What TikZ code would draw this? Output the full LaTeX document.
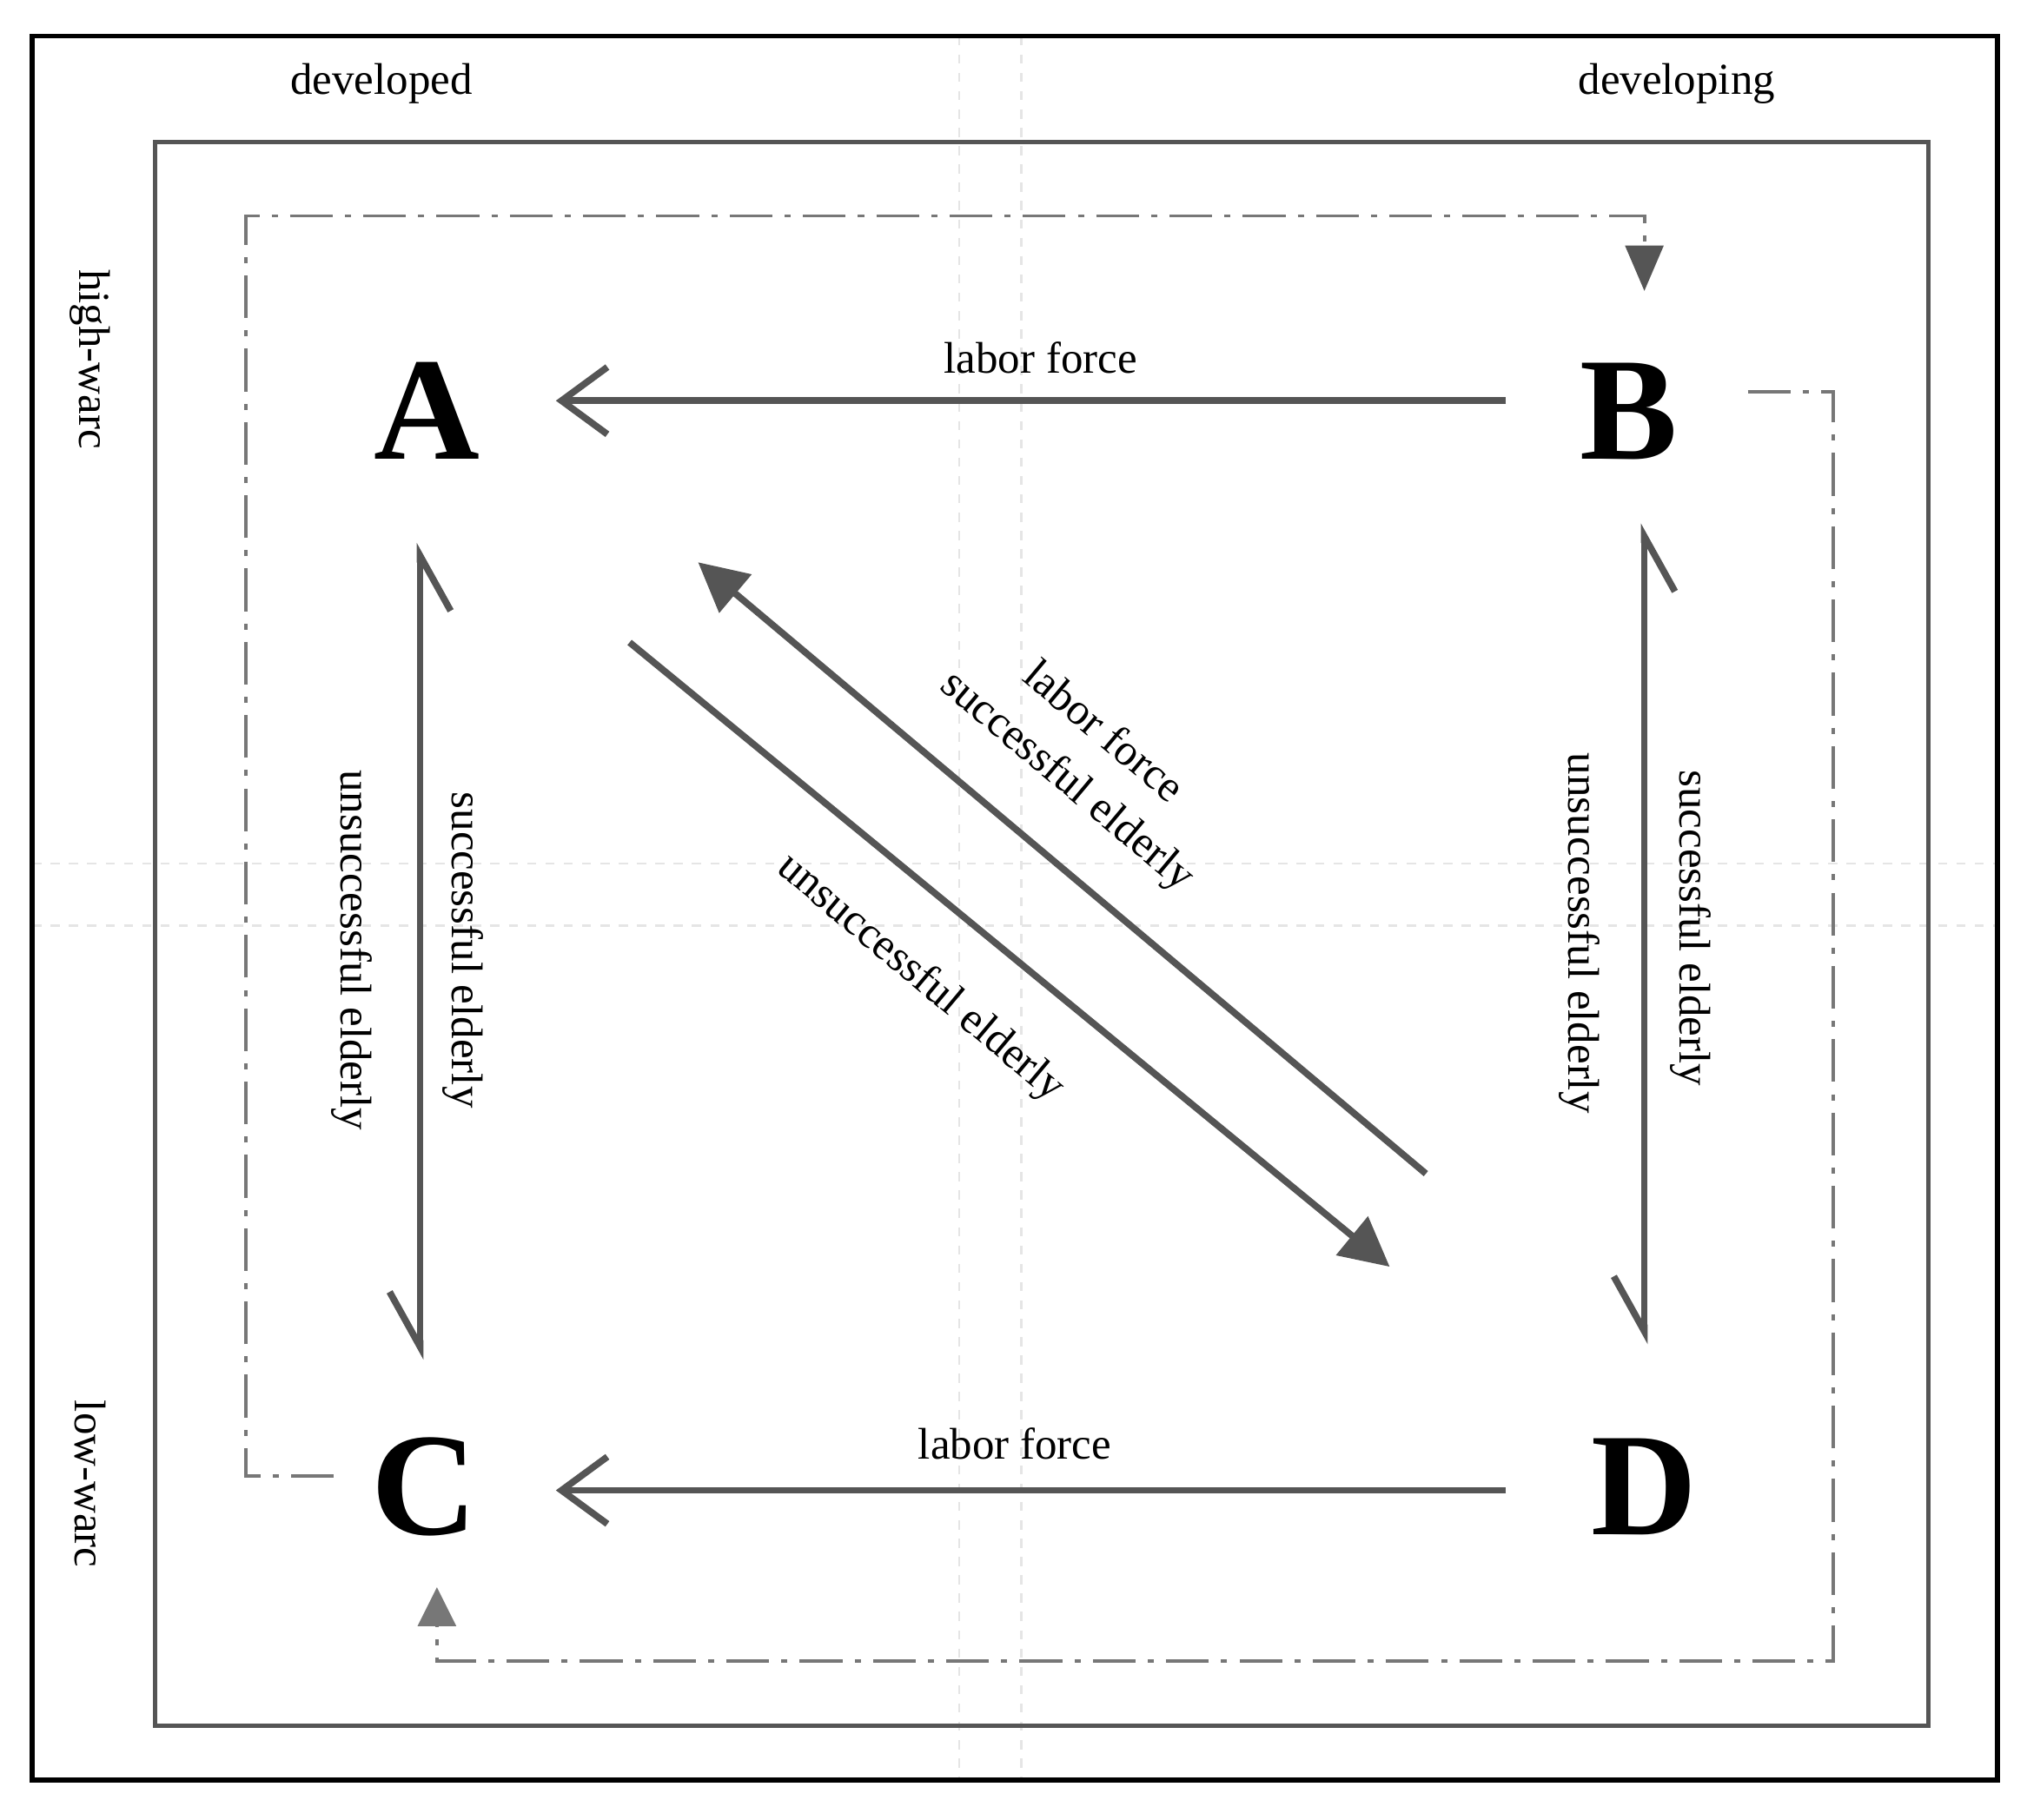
\documentclass[tikz,border=0pt]{standalone}
\usepackage{fontspec}
\setmainfont{Liberation Serif}
\usetikzlibrary{arrows.meta}
\definecolor{linegray}{HTML}{555555}
\tikzset{
  flow/.style={draw=linegray, line width=2.2pt},
  hbarb/.style={flow, -{Straight Barb[length=15pt,width=22pt,line width=2.2pt]}},
  vbarb/.style={flow, {Straight Barb[right,length=18pt,width=20pt,line width=2.2pt]}-{Straight Barb[right,length=18pt,width=20pt,line width=2.2pt]}},
  filled/.style={flow, -{Triangle[length=16pt,width=16pt]}},
  dashdot/.style={draw=linegray!80, line width=1.1pt, dash pattern=on 14pt off 4pt on 2pt off 4pt},
  guide/.style={draw=gray!20, line width=0.8pt, dashed},
  corner/.style={font=\fontsize{48}{52}\selectfont\bfseries},
  lbl/.style={font=\fontsize{14.5}{16}\selectfont}
}
\begin{document}
\begin{tikzpicture}[x=0.01488cm,y=-0.01488cm]
\useasboundingbox (0,0) rectangle (1568,1408);
% guide lines
\draw[guide] (742,28) -- (742,1377);
\draw[guide] (790,28) -- (790,1377);
\draw[guide] (25,668) -- (1545,668);
\draw[guide] (25,716) -- (1545,716);
% frames
\draw[line width=1.6pt] (25,28) rectangle (1545,1377);
\draw[linegray, line width=1.4pt] (120,110) rectangle (1492,1335);
% axis labels
\node[lbl] (dev) at (295,65) {developed};
\node[lbl] (deving) at (1297,65) {developing};
\node[lbl, rotate=-90] (hw) at (70,278) {high-warc};
\node[lbl, rotate=-90] (lw) at (70,1148) {low-warc};
% corners
\node[corner] (A) at (330,318) {A};
\node[corner] (B) at (1260,318) {B};
\node[corner] (C) at (328,1150) {C};
\node[corner] (D) at (1272,1150) {D};
% connector ends
\coordinate (bA) at (1165,310); \coordinate (eA) at (430,310);
\coordinate (bC) at (1165,1153); \coordinate (eC) at (430,1153);
\coordinate (ACt) at (325,420); \coordinate (ACb) at (325,1052);
\coordinate (BDt) at (1272,405); \coordinate (BDb) at (1272,1040);
\coordinate (dg1s) at (1103,908); \coordinate (dg1e) at (540,435);
\coordinate (dg2s) at (487,497); \coordinate (dg2e) at (1075,980);
% horizontal flows
\draw[hbarb] (bA) -- (eA);
\node[lbl] (lfAB) at (805,277) {labor force};
\draw[hbarb] (bC) -- (eC);
\node[lbl] (lfCD) at (785,1117) {labor force};
% vertical flows
\draw[vbarb] (ACt) -- (ACb);
\node[lbl, rotate=-90] (uAC) at (272,735) {unsuccessful elderly};
\node[lbl, rotate=-90] (sAC) at (358,735) {successful elderly};
\draw[vbarb] (BDt) -- (BDb);
\node[lbl, rotate=-90] (uBD) at (1222,722) {unsuccessful elderly};
\node[lbl, rotate=-90] (sBD) at (1308,718) {successful elderly};
% diagonal flows
\draw[filled] (dg1s) -- (dg1e);
\node[lbl, rotate=-40] (lfD) at (855,565) {labor force};
\node[lbl, rotate=-40] (sD) at (825,605) {successful elderly};
\draw[filled] (dg2s) -- (dg2e);
\node[lbl, rotate=-40] (uD) at (712,757) {unsuccessful elderly};
% dash-dot loops
\coordinate (cL) at (258,1142); \coordinate (bT) at (1272,225);
\coordinate (bR) at (1352,303); \coordinate (cB) at (338,1228);
\draw[dashdot] (cL) -- (190,1142) -- (190,167) -- (1272,167) -- (1272,190);
\fill[linegray] (1257,190) -- (1287,190) -- (bT) -- cycle;
\draw[dashdot] (bR) -- (1418,303) -- (1418,1285) -- (338,1285) -- (338,1258);
\fill[linegray!80] (323,1258) -- (353,1258) -- (cB) -- cycle;
\end{tikzpicture}
\end{document}
